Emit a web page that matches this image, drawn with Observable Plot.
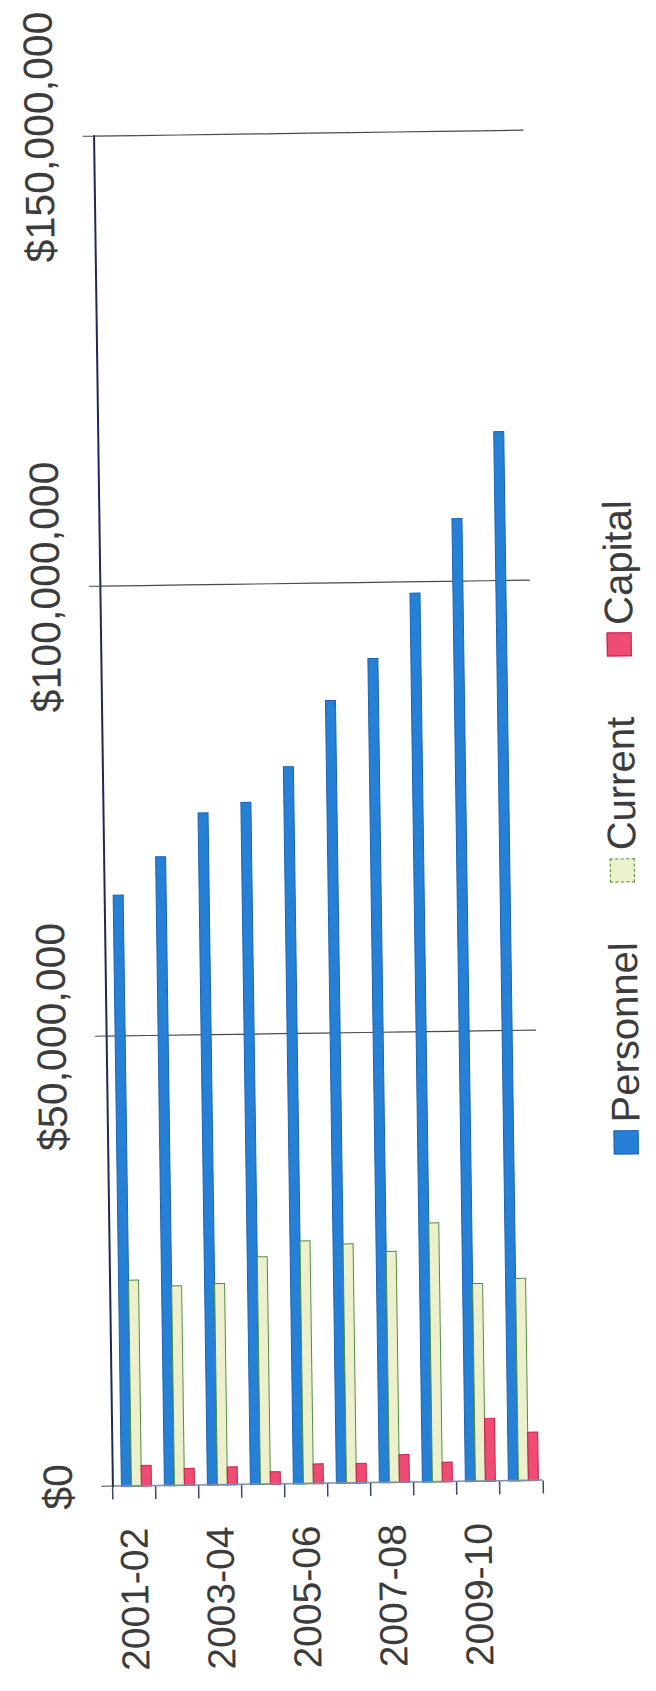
<!DOCTYPE html>
<html><head><meta charset="utf-8">
<script src="https://cdn.jsdelivr.net/npm/d3@7"></script>
<script src="https://cdn.jsdelivr.net/npm/@observablehq/plot@0.6"></script>
<style>
html,body{margin:0;padding:0;background:#fff;width:656px;height:1691px;overflow:hidden;position:relative;}
#rot{position:absolute;left:-517.5px;top:517.5px;width:1691px;height:656px;transform-origin:845.5px 328px;transform:rotate(-90.8deg);font-family:"Liberation Sans",Arial,sans-serif;}
#chart{position:absolute;left:0;top:0;}
#legend{position:absolute;left:533px;top:601px;display:flex;align-items:center;gap:60px;font-size:40px;line-height:40px;color:#3c3c3c;}
.item{display:flex;align-items:center;gap:8px;}
.sw{width:24px;height:25px;box-sizing:border-box;}
</style></head><body>
<div id="rot"><div id="chart"></div><div id="legend"></div></div>
<script>
const years = ["2001-02","2002-03","2003-04","2004-05","2005-06","2006-07","2007-08","2008-09","2009-10","2010-11"];
const seriesNames = ["Personnel","Current","Capital"];
const personnel = [65700000, 69900000, 74700000, 75800000, 79700000, 87000000, 91600000, 98800000, 107000000, 116600000];
const current = [22900000, 22200000, 22400000, 25300000, 27000000, 26600000, 25700000, 28800000, 22000000, 22500000];
const capital = [2300000, 1900000, 2000000, 1400000, 2200000, 2200000, 3100000, 2200000, 7000000, 5400000];
const valueTicks = [0, 50000000, 100000000, 150000000];
const labeledYears = years.filter((d, i) => i % 2 === 0);

const fills = ["#2681d6", "#edf0cc", "#ee4c72"];
const strokes = ["#1a62b2", "#4f8f3f", "#c42048"];

const seriesValues = [personnel, current, capital];
const rows = years.flatMap((year, i) => seriesNames.map((s, k) => ({year, series: s, value: seriesValues[k][i]})));

const W = 1691, H = 560, mL = 208, mR = 133, mT = 100, mB = 24;
const step = (H - mT - mB) / years.length;

const plot = Plot.plot({
  width: W, height: H,
  marginLeft: mL, marginRight: mR, marginTop: mT, marginBottom: mB,
  style: {fontFamily: "'Liberation Sans', Arial, sans-serif", fontSize: "39px", color: "#3c3c3c", background: "transparent", overflow: "visible"},
  x: {domain: [0, 150000000]},
  y: {domain: seriesNames, paddingInner: 0, paddingOuter: 0.54, align: 0.69, axis: null},
  fy: {domain: years, padding: 0},
  marks: [
    Plot.gridX(valueTicks.slice(1), {stroke: "#4a4a4a", strokeOpacity: 1, strokeWidth: 1.2}),
    ...seriesNames.map((s, k) => Plot.barX(rows.filter(d => d.series === s), {
      x: "value", y: "series", fy: "year", fill: fills[k], stroke: strokes[k], strokeWidth: 1
    })),
    Plot.ruleX([0], {stroke: "#7d8fa8", strokeWidth: 1.5}),
    Plot.frame({anchor: "top", facet: "super", stroke: "#1e2a55", strokeWidth: 2}),
    Plot.axisX({anchor: "top", ticks: valueTicks, tickFormat: d3.format("$,"), tickSize: 12, tickPadding: 29, label: null, stroke: "#4a4a4a", fontSize: 41}),
    Plot.axisFy({anchor: "left", ticks: labeledYears, tickSize: 0, tickPadding: 42, label: null, fontSize: 39}),
    Plot.axisFy({anchor: "left", tickSize: 13, tickFormat: () => "", dy: -step / 2, label: null, stroke: "#3a4a6a", strokeWidth: 1.5}),
    Plot.axisFy({anchor: "left", ticks: [years[years.length - 1]], tickSize: 13, tickFormat: () => "", dy: step / 2, label: null, stroke: "#3a4a6a", strokeWidth: 1.5})
  ]
});
document.getElementById("chart").appendChild(plot);

const legend = document.getElementById("legend");
seriesNames.forEach((s, k) => {
  const item = document.createElement("div");
  item.className = "item";
  const sw = document.createElement("div");
  sw.className = "sw";
  sw.style.background = fills[k];
  sw.style.border = "1px " + (k === 1 ? "dashed " : "solid ") + strokes[k];
  const t = document.createElement("span");
  t.textContent = s;
  item.appendChild(sw);
  item.appendChild(t);
  legend.appendChild(item);
});
</script>
</body></html>
